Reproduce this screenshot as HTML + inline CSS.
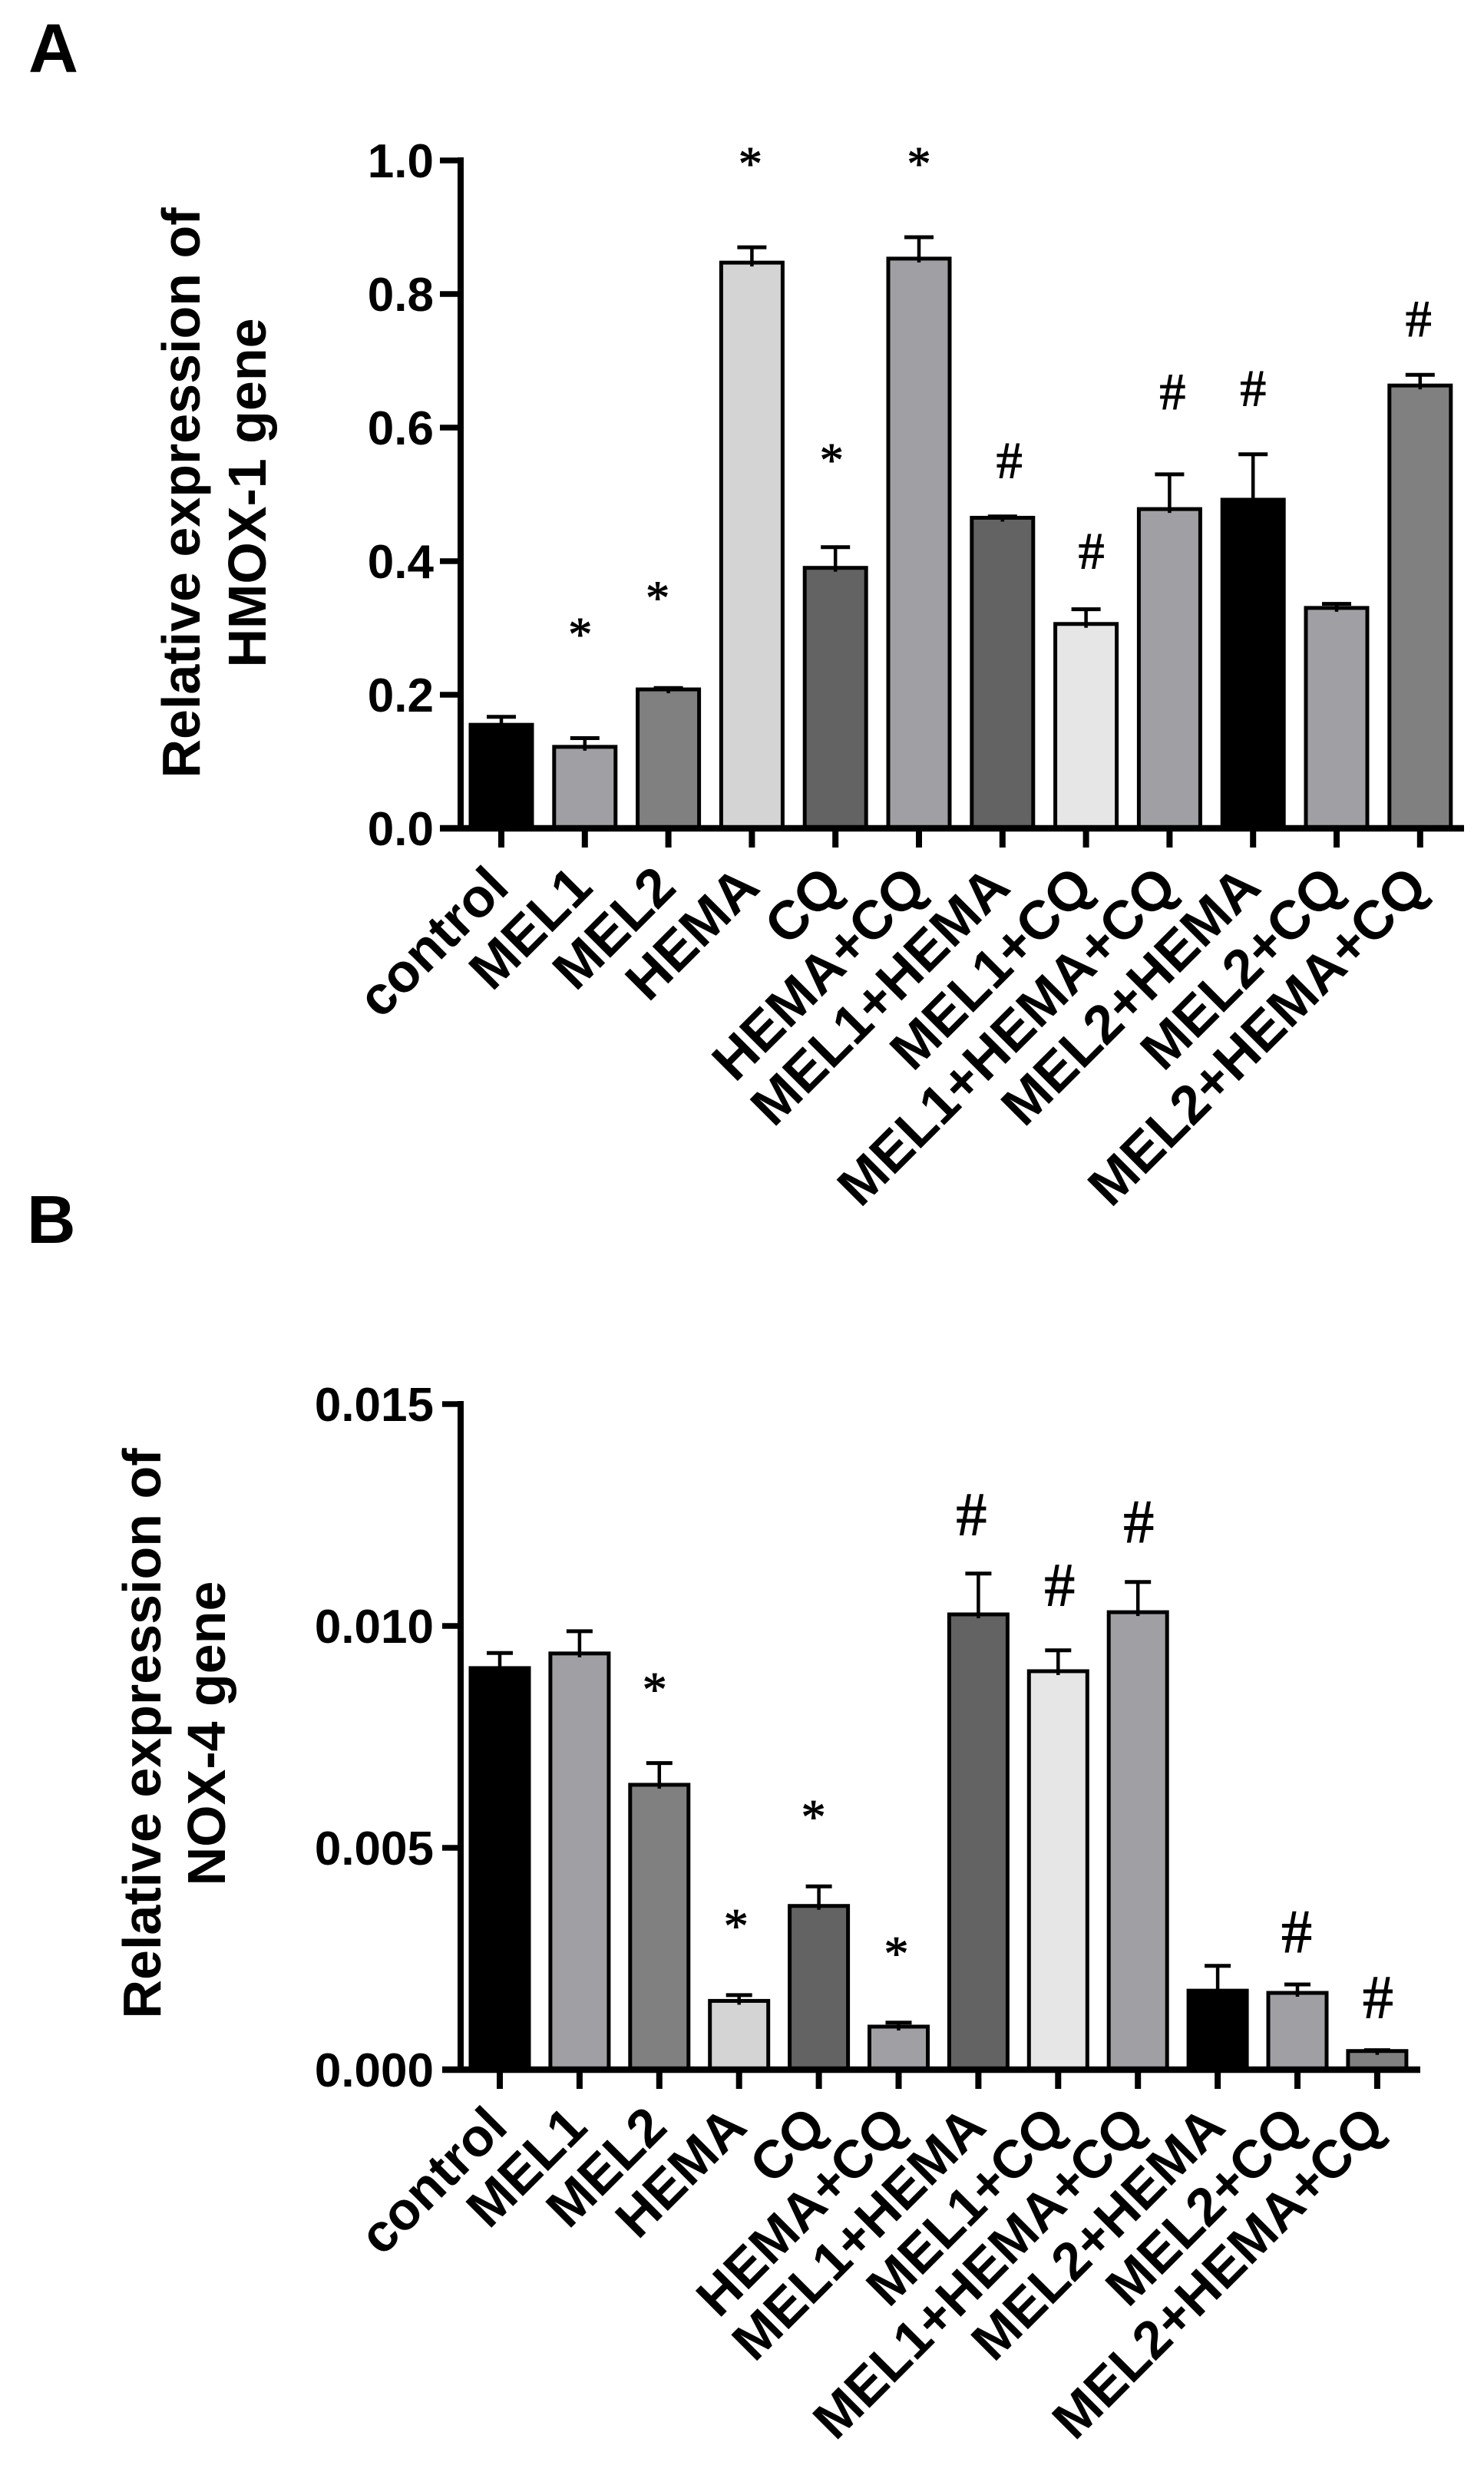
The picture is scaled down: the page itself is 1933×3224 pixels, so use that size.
<!DOCTYPE html>
<html lang="en">
<head>
<meta charset="utf-8">
<title>Relative expression of HMOX-1 and NOX-4 genes</title>
<style>
html,body{margin:0;padding:0;background:#fff}
svg{display:block}
text{font-family:"Liberation Sans",Arial,sans-serif;font-weight:700;fill:#000}
text.sig{font-family:"Liberation Serif","Times New Roman",serif;font-weight:400;stroke:#000;stroke-width:1}
</style>
</head>
<body>
<svg id="figure" xmlns="http://www.w3.org/2000/svg" width="1933" height="3224" viewBox="0 0 1933 3224">
  <rect x="0" y="0" width="1933" height="3224" fill="#fff"/>
  <text x="37" y="94" font-size="90">A</text>
  <text x="35" y="1619" font-size="88">B</text>
  <g id="chartA">
    <text transform="translate(260,642) rotate(-90)" text-anchor="middle" font-size="70">Relative expression of</text>
    <text transform="translate(346,642) rotate(-90)" text-anchor="middle" font-size="70">HMOX-1 gene</text>
  </g>
  <g id="chartB">
    <text transform="translate(209,2258) rotate(-90)" text-anchor="middle" font-size="70">Relative expression of</text>
    <text transform="translate(293,2258) rotate(-90)" text-anchor="middle" font-size="70">NOX-4 gene</text>
  </g>
</svg>
<script>
// Shared categories and bar fills
const categories = ["control","MEL1","MEL2","HEMA","CQ","HEMA+CQ","MEL1+HEMA","MEL1+CQ","MEL1+HEMA+CQ","MEL2+HEMA","MEL2+CQ","MEL2+HEMA+CQ"];
const barFills = ["#000000","#a0a0a4","#808080","#d4d4d4","#636363","#a0a0a4","#636363","#e6e6e6","#a0a0a4","#000000","#a0a0a4","#808080"];

// Panel A: HMOX-1
const valuesA = [0.155,0.122,0.208,0.847,0.390,0.853,0.465,0.306,0.478,0.492,0.330,0.663];
const errorsA = [0.012,0.013,0.002,0.023,0.031,0.032,0.002,0.022,0.052,0.068,0.006,0.016];
const yTickLabelsA = ["0.0","0.2","0.4","0.6","0.8","1.0"];
const sigSymbolsA = ["","*","*","*","*","*","#","#","#","#","","#"];
const sigLevelsA = [0,0.300,0.355,1.005,0.561,1.005,0.551,0.415,0.654,0.659,0,0.763];

// Panel B: NOX-4
const valuesB = [0.00905,0.00938,0.00642,0.00155,0.00369,0.00097,0.01026,0.00898,0.01031,0.00178,0.00173,0.00042];
const errorsB = [0.00034,0.00050,0.00049,0.00013,0.00044,0.00009,0.00092,0.00047,0.00068,0.00056,0.00019,0.00002];
const yTickLabelsB = ["0.000","0.005","0.010","0.015"];
const sigSymbolsB = ["","","*","*","*","*","#","#","#","","#","#"];
const sigLevelsB = [0,0,0.00872,0.00339,0.00585,0.00277,0.01251,0.01092,0.01235,0,0.00311,0.00163];

const SVGNS = "http://www.w3.org/2000/svg";
function mk(tag, parent) {
  const el = document.createElementNS(SVGNS, tag);
  parent.appendChild(el);
  return el;
}
function line(parent, x1, y1, x2, y2, width) {
  const el = mk("line", parent);
  el.setAttribute("x1", x1);
  el.setAttribute("y1", y1);
  el.setAttribute("x2", x2);
  el.setAttribute("y2", y2);
  el.setAttribute("stroke", "#000");
  el.setAttribute("stroke-width", width);
  return el;
}

function drawChart(cfg) {
  const root = document.getElementById(cfg.id);
  const x = i => cfg.x0 + cfg.step * i;
  const y = v => cfg.y0 - cfg.pxPerUnit * v;

  // bars and error bars
  cfg.values.forEach((v, i) => {
    const top = y(v + cfg.errors[i]);
    const stem = line(root, x(i), y(v) + 5, x(i), top, 4.5);
    
    
    const cap = line(root, x(i) - cfg.capHalf, top, x(i) + cfg.capHalf, top, 5);
    
    
    const bar = mk("rect", root);
    bar.setAttribute("x", x(i) - cfg.barWidth / 2);
    bar.setAttribute("y", y(v));
    bar.setAttribute("width", cfg.barWidth);
    bar.setAttribute("height", Math.max(0, cfg.y0 - y(v)));
    bar.setAttribute("fill", barFills[i]);
    bar.setAttribute("stroke", "#000");
    bar.setAttribute("stroke-width", 5);
    
    
    // re-draw the part of the stem that pokes into the bar top
    const stub = line(root, x(i), y(v), x(i), y(v) + 5, 4.5);
    
    
  });

  // axes
  const yTop = y(parseFloat(cfg.yTicks[cfg.yTicks.length - 1]));
  const yAxis = line(root, cfg.axisX, yTop - 4, cfg.axisX, cfg.y0 + 4, 8);
  
  
  const xAxis = line(root, cfg.tickLeft, cfg.y0, cfg.axisEnd, cfg.y0, 8.5);
  
  

  // y ticks and labels
  cfg.yTicks.forEach(label => {
    const v = parseFloat(label);
    const t = line(root, cfg.tickLeft, y(v), cfg.axisX, y(v), 7.5);
    
    
    const txt = mk("text", root);
    txt.textContent = label;
    txt.setAttribute("x", cfg.yLabelRight);
    txt.setAttribute("y", y(v) + cfg.yLabelSize * 0.358);
    txt.setAttribute("text-anchor", "end");
    txt.setAttribute("font-size", cfg.yLabelSize);
    
    
  });

  // x ticks and rotated labels
  categories.forEach((c, i) => {
    const t = line(root, x(i), cfg.y0, x(i), cfg.y0 + 25, 8);
    
    
    const txt = mk("text", root);
    txt.textContent = c;
    txt.setAttribute("text-anchor", "end");
    txt.setAttribute("font-size", cfg.xLabelSize);
    txt.setAttribute("transform", "translate(" + (x(i) + cfg.xLabelDx) + "," + (cfg.y0 + cfg.xLabelDy) + ") rotate(-45)");
    
    
  });

  // significance marks
  cfg.sigSymbols.forEach((s, i) => {
    if (!s) return;
    const txt = mk("text", root);
    txt.textContent = s;
    txt.setAttribute("class", "sig");
    const size = s === "#" ? cfg.hashSize : cfg.starSize;
    const lift = s === "#" ? 0.335 : 0.47;
    txt.setAttribute("x", x(i) + cfg.sigNudge[i]);
    txt.setAttribute("y", y(cfg.sigLevels[i]) + size * lift);
    txt.setAttribute("text-anchor", "middle");
    txt.setAttribute("font-size", size);
    
    
  });
}

drawChart({
  id: "chartA", values: valuesA, errors: errorsA, yTicks: yTickLabelsA,
  sigSymbols: sigSymbolsA, sigLevels: sigLevelsA,
  sigNudge: [0,-6,-14,-2,-5,0,9,7,4,0,0,-2],
  x0: 653, step: 108.8, y0: 1079, pxPerUnit: 870,
  barWidth: 80, capHalf: 19, axisX: 600, tickLeft: 573, axisEnd: 1907,
  yLabelRight: 565, yLabelSize: 62, xLabelSize: 71, xLabelDx: 13, xLabelDy: 80,
  hashSize: 68, starSize: 62
});
drawChart({
  id: "chartB", values: valuesB, errors: errorsB, yTicks: yTickLabelsB,
  sigSymbols: sigSymbolsB, sigLevels: sigLevelsB,
  sigNudge: [0,0,-6,-4,-7,-3,-9,2,1,0,-1,1],
  x0: 651, step: 103.9, y0: 2696, pxPerUnit: 57800,
  barWidth: 76, capHalf: 17, axisX: 600, tickLeft: 576, axisEnd: 1850,
  yLabelRight: 565, yLabelSize: 62, xLabelSize: 69.5, xLabelDx: 13, xLabelDy: 78,
  hashSize: 80, starSize: 64
});
</script>
</body>
</html>
